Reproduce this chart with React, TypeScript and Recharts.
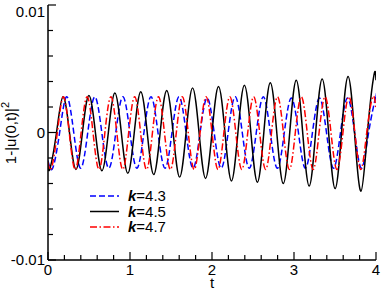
import { LineChart, Line, XAxis, YAxis, Legend, Label } from "recharts";

// t positions of extrema / zero crossings, with values
const blueT = [0, 0.057, 0.142, 0.228, 0.314, 0.399, 0.485, 0.571, 0.656, 0.742, 0.827, 0.913, 0.999, 1.084, 1.17, 1.256, 1.341, 1.427, 1.512, 1.598, 1.684, 1.769, 1.855, 1.941, 2.026, 2.112, 2.197, 2.283, 2.369, 2.454, 2.54, 2.626, 2.711, 2.797, 2.882, 2.968, 3.054, 3.139, 3.225, 3.311, 3.396, 3.482, 3.567, 3.653, 3.739, 3.824, 3.91, 3.996, 4.0];
const blueV = [-0.0022, -0.0028, 0, 0.0028, 0, -0.0028, 0, 0.0028, 0, -0.0028, 0, 0.0028, 0, -0.0028, 0, 0.0028, 0, -0.0028, 0, 0.0028, 0, -0.0028, 0, 0.0027, 0, -0.0028, 0, 0.0028, 0, -0.0028, 0, 0.0028, 0, -0.0028, 0, 0.0027, 0, -0.0028, 0, 0.0027, 0, -0.0028, 0, 0.0027, 0, -0.0028, 0, 0.0028, 0.0028];

const blackT = [0, 0.025, 0.104, 0.183, 0.262, 0.341, 0.42, 0.499, 0.578, 0.657, 0.736, 0.815, 0.894, 0.973, 1.052, 1.131, 1.21, 1.289, 1.368, 1.447, 1.526, 1.605, 1.684, 1.763, 1.842, 1.921, 2.0, 2.079, 2.158, 2.237, 2.316, 2.395, 2.474, 2.553, 2.632, 2.711, 2.79, 2.869, 2.948, 3.027, 3.106, 3.185, 3.264, 3.343, 3.422, 3.501, 3.58, 3.659, 3.738, 3.817, 3.896, 3.975, 4.0];
const blackV = [-0.0026, -0.0028, 0, 0.0028, 0, -0.0029, 0, 0.0029, 0, -0.003, 0, 0.0031, 0, -0.0032, 0, 0.0032, 0, -0.0033, 0, 0.0033, 0, -0.0035, 0, 0.0035, 0, -0.0036, 0, 0.0036, 0, -0.0038, 0, 0.0037, 0, -0.0039, 0, 0.0039, 0, -0.004, 0, 0.0041, 0, -0.0042, 0, 0.0042, 0, -0.0044, 0, 0.0044, 0, -0.0046, 0, 0.0045, 0.0041];

const redT = [0, 0.042, 0.114, 0.187, 0.259, 0.332, 0.404, 0.477, 0.549, 0.622, 0.694, 0.767, 0.839, 0.912, 0.984, 1.057, 1.129, 1.202, 1.274, 1.347, 1.42, 1.493, 1.565, 1.638, 1.71, 1.783, 1.855, 1.928, 2.0, 2.073, 2.145, 2.218, 2.29, 2.363, 2.436, 2.508, 2.581, 2.654, 2.726, 2.799, 2.871, 2.944, 3.016, 3.089, 3.161, 3.234, 3.306, 3.379, 3.451, 3.524, 3.597, 3.669, 3.742, 3.815, 3.887, 3.96, 4.0];
const redV = [-0.0023, -0.0028, 0, 0.0028, 0, -0.0029, 0, 0.0028, 0, -0.0029, 0, 0.0028, 0, -0.0029, 0, 0.0028, 0, -0.0029, 0, 0.0028, 0, -0.0029, 0, 0.0028, 0, -0.0029, 0, 0.0028, 0, -0.0029, 0, 0.0028, 0, -0.0029, 0, 0.0028, 0, -0.0029, 0, 0.0028, 0, -0.0029, 0, 0.0028, 0, -0.0029, 0, 0.0028, 0, -0.0029, 0, 0.0028, 0, -0.0029, 0, 0.0028, 0.0018];

const xTicks = [0, 0.2, 0.4, 0.6, 0.8, 1, 1.2, 1.4, 1.6, 1.8, 2, 2.2, 2.4, 2.6, 2.8, 3, 3.2, 3.4, 3.6, 3.8, 4];
const xMajor = [0, 1, 2, 3, 4];
const xTickLabels = ["0", "1", "2", "3", "4"];
const yTicks = [-0.01, -0.008, -0.006, -0.004, -0.002, 0, 0.002, 0.004, 0.006, 0.008, 0.01];
const yMajor = [-0.01, 0, 0.01];
const yTickLabels = ["-0.01", "0", "0.01"];

const seriesK = ["4.3", "4.5", "4.7"];
const seriesColors = ["#0000ff", "#000000", "#ff0000"];
const seriesDash = ["6 3", undefined, "7 2.5 1.5 2.5"];

const toRows = (ts: number[], vs: number[]) => ts.map((t, i) => ({ t, v: vs[i] }));
const seriesData = [toRows(blueT, blueV), toRows(blackT, blackV), toRows(redT, redV)];

const FONT = "'Liberation Sans', Arial, sans-serif";
const near = (a: number, b: number) => Math.abs(a - b) < 1e-9;

function BottomTick({ x, y, payload }: any) {
  const i = xMajor.findIndex((m) => near(m, payload.value));
  return (
    <g>
      <line x1={x} x2={x} y1={y} y2={y - (i >= 0 ? 8 : 5)} stroke="#000" strokeWidth={1.2} />
      {i >= 0 && (
        <text x={x} y={y + 15} textAnchor="middle" fontSize={15} fill="#000">
          {xTickLabels[i]}
        </text>
      )}
    </g>
  );
}

function TopTick({ x, y, payload }: any) {
  const major = xMajor.some((m) => near(m, payload.value));
  return <line x1={x} x2={x} y1={y} y2={y + (major ? 8 : 5)} stroke="#000" strokeWidth={1.2} />;
}

function LeftTick({ x, y, payload }: any) {
  const i = yMajor.findIndex((m) => near(m, payload.value));
  return (
    <g>
      <line x1={x} x2={x + (i >= 0 ? 8 : 5)} y1={y} y2={y} stroke="#000" strokeWidth={1.2} />
      {i >= 0 && (
        <text x={x - 3} y={Math.max(y, 12) + 5} textAnchor="end" fontSize={15} fill="#000">
          {yTickLabels[i]}
        </text>
      )}
    </g>
  );
}

function RightTick({ x, y, payload }: any) {
  const major = yMajor.some((m) => near(m, payload.value));
  return <line x1={x} x2={x - (major ? 8 : 5)} y1={y} y2={y} stroke="#000" strokeWidth={1.2} />;
}

function LegendBox() {
  return (
    <svg width={120} height={48} style={{ fontFamily: FONT }}>
      {seriesK.map((k, i) => (
        <g key={k}>
          <line
            x1={2}
            x2={31}
            y1={8 + i * 15.5}
            y2={8 + i * 15.5}
            stroke={seriesColors[i]}
            strokeWidth={1.5}
            strokeDasharray={seriesDash[i]}
          />
          <text x={40} y={8 + i * 15.5 + 5} fontSize={15} fill="#000">
            <tspan fontWeight="bold" fontStyle="italic">k</tspan>={k}
          </text>
        </g>
      ))}
    </svg>
  );
}

export default function App() {
  return (
    <div style={{ position: "absolute", left: 0, top: 0, background: "#fff" }}>
      <LineChart
        width={382}
        height={291}
        margin={{ top: 5, right: 6, bottom: 0, left: 0 }}
        style={{ fontFamily: FONT }}
      >
        <XAxis
          dataKey="t"
          type="number"
          domain={[0, 4]}
          ticks={xTicks}
          interval={0}
          height={31}
          tickSize={0}
          tickMargin={0}
          tickLine={false}
          tick={BottomTick}
          axisLine={{ stroke: "#000", strokeWidth: 1.5 }}
          allowDataOverflow
        >
          <Label
            content={() => (
              <text x={212} y={288} textAnchor="middle" fontSize={15} fill="#000">
                t
              </text>
            )}
          />
        </XAxis>
        <XAxis
          xAxisId="top"
          orientation="top"
          dataKey="t"
          type="number"
          domain={[0, 4]}
          ticks={xTicks}
          interval={0}
          height={0}
          tickSize={0}
          tickMargin={0}
          tickLine={false}
          tick={TopTick}
          axisLine={{ stroke: "#000", strokeWidth: 1.5 }}
          allowDataOverflow
        />
        <YAxis
          type="number"
          domain={[-0.01, 0.01]}
          ticks={yTicks}
          interval={0}
          width={48}
          tickSize={0}
          tickMargin={0}
          tickLine={false}
          tick={LeftTick}
          axisLine={{ stroke: "#000", strokeWidth: 1.5 }}
          allowDataOverflow
        >
          <Label
            content={() => (
              <text
                x={16}
                y={133}
                textAnchor="middle"
                fontSize={15}
                fill="#000"
                transform="rotate(-90 16 133)"
              >
                1-|u(0,t)|
                <tspan dy={-7} fontSize={11}>2</tspan>
              </text>
            )}
          />
        </YAxis>
        <YAxis
          yAxisId="right"
          orientation="right"
          type="number"
          domain={[-0.01, 0.01]}
          ticks={yTicks}
          interval={0}
          width={0}
          tickSize={0}
          tickMargin={0}
          tickLine={false}
          tick={RightTick}
          axisLine={{ stroke: "#000", strokeWidth: 1.5 }}
          allowDataOverflow
        />
        {seriesData.map((rows, i) => (
          <Line
            key={seriesK[i]}
            data={rows}
            dataKey="v"
            name={"k=" + seriesK[i]}
            type="natural"
            stroke={seriesColors[i]}
            strokeWidth={1.5}
            strokeDasharray={seriesDash[i]}
            dot={false}
            activeDot={false}
            isAnimationActive={false}
          />
        ))}
        <Legend
          layout="vertical"
          align="center"
          verticalAlign="middle"
          content={LegendBox}
          wrapperStyle={{ position: "absolute", left: 88, top: 188, width: 120, height: 48 }}
        />
      </LineChart>
    </div>
  );
}
